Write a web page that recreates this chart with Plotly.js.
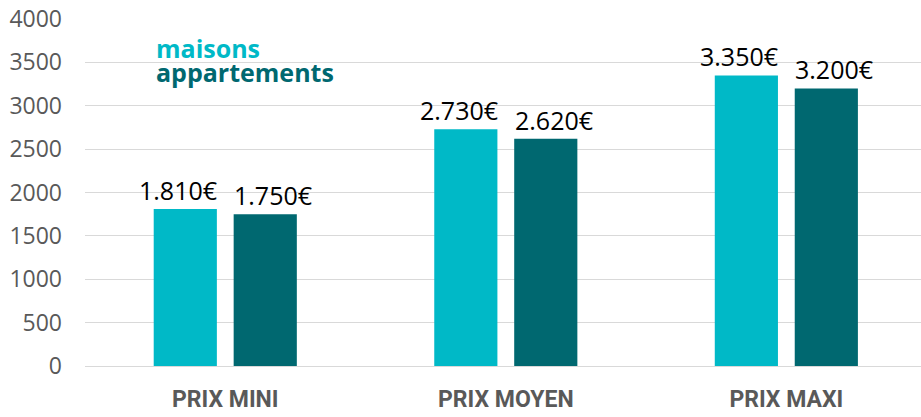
<!DOCTYPE html>
<html><head><meta charset="utf-8">
<script src="https://cdn.plot.ly/plotly-3.0.1.min.js"></script>
<style>html,body{margin:0;padding:0;background:#fff}#chart{width:921px;height:417px}</style>
</head><body><div id="chart"></div>
<script>
const categories = ["PRIX MINI", "PRIX MOYEN", "PRIX MAXI"];
const maisons = [1810, 2730, 3350];
const appartements = [1750, 2620, 3200];
const seriesNames = ["maisons", "appartements"];
const yTicks = [0, 500, 1000, 1500, 2000, 2500, 3000, 3500, 4000];

const colMaisons = "#00B9C7";
const colApparts = "#006870";

function fmt(v) {
  return String(v).replace(/\B(?=(\d{3})+(?!\d))/g, ".") + "€";
}

function barTrace(name, y, color) {
  return {
    type: "bar", name: name, x: categories, y: y,
    marker: {color: color}, hoverinfo: "skip"
  };
}

const data = [
  barTrace(seriesNames[0], maisons, colMaisons),
  barTrace(seriesNames[1], appartements, colApparts)
];

const labelFont = {family: "Open Sans", size: 25, color: "#000000"};
const valueAnnotations = [];
categories.forEach((c, i) => {
  valueAnnotations.push({
    xref: "x", yref: "y", x: c, y: maisons[i], xanchor: "right", yanchor: "bottom",
    xshift: -6, yshift: 0, text: fmt(maisons[i]), showarrow: false, font: labelFont
  });
  valueAnnotations.push({
    xref: "x", yref: "y", x: c, y: appartements[i], xanchor: "left", yanchor: "bottom",
    xshift: 7, yshift: 0, text: fmt(appartements[i]), showarrow: false, font: labelFont
  });
});

const layout = {
  width: 921, height: 417,
  margin: {l: 85, r: 0, t: 19, b: 51},
  paper_bgcolor: "#fff", plot_bgcolor: "#fff",
  showlegend: false,
  barmode: "group", bargap: 0.43, bargroupgap: 0.21,
  xaxis: {
    range: [-0.5, 2.48], showgrid: false, zeroline: false, showline: false,
    ticks: "", ticklabelstandoff: 17,
    tickfont: {family: "Roboto", size: 23, color: "#595959", weight: "bold"}
  },
  yaxis: {
    range: [0, 4000], tickvals: yTicks, ticktext: yTicks.map(String),
    showgrid: true, gridcolor: "#d9d9d9", gridwidth: 1,
    zeroline: true, zerolinecolor: "#d9d9d9", zerolinewidth: 1,
    showline: false, ticks: "", ticklabelstandoff: 22,
    tickfont: {family: "Open Sans", size: 23, color: "#595959"}
  },
  annotations: valueAnnotations.concat([
    {xref: "paper", yref: "paper", x: 0.082, y: 0.915, xanchor: "left", yanchor: "middle",
     text: "<b>" + seriesNames[0] + "</b>", showarrow: false,
     font: {family: "Open Sans", size: 25, color: colMaisons}},
    {xref: "paper", yref: "paper", x: 0.082, y: 0.848, xanchor: "left", yanchor: "middle",
     text: "<b>" + seriesNames[1] + "</b>", showarrow: false,
     font: {family: "Open Sans", size: 25, color: colApparts}}
  ])
};

Plotly.newPlot("chart", data, layout, {displayModeBar: false, staticPlot: true});
</script></body></html>
